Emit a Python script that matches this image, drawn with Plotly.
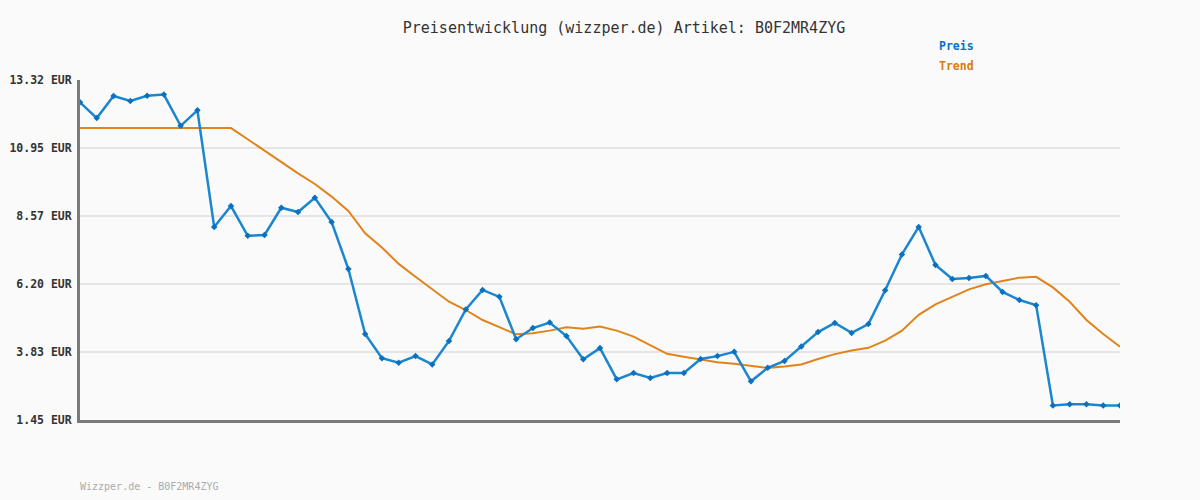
import plotly.graph_objects as go

PRICE_COLOR = "#1b86d0"
MARKER_COLOR = "#0a70c0"
TREND_COLOR = "#e0841a"
FONT = "DejaVu Sans Mono"

# one value per observation (63 points, no date labels shown)
preis = [12.54, 11.99, 12.76, 12.59, 12.77, 12.81, 11.72, 12.26, 8.19, 8.92,
         7.88, 7.91, 8.86, 8.71, 9.21, 8.36, 6.72, 4.45, 3.61, 3.45,
         3.68, 3.39, 4.21, 5.31, 5.99, 5.75, 4.27, 4.66, 4.85, 4.38,
         3.57, 3.96, 2.87, 3.09, 2.92, 3.09, 3.09, 3.58, 3.68, 3.83,
         2.80, 3.27, 3.51, 4.02, 4.52, 4.84, 4.49, 4.80, 5.98, 7.23,
         8.19, 6.86, 6.37, 6.41, 6.48, 5.92, 5.64, 5.46, 1.96, 2.00,
         2.00, 1.96, 1.96]

trend = [11.64, 11.64, 11.64, 11.64, 11.64, 11.64, 11.64, 11.64, 11.64, 11.64,
         11.25, 10.85, 10.47, 10.06, 9.69, 9.25, 8.75, 7.97, 7.47, 6.90,
         6.45, 6.01, 5.58, 5.29, 4.94, 4.69, 4.44, 4.48, 4.57, 4.69,
         4.64, 4.71, 4.57, 4.36, 4.07, 3.76, 3.66, 3.57, 3.47, 3.41,
         3.34, 3.27, 3.32, 3.39, 3.58, 3.75, 3.88, 3.97, 4.22, 4.57,
         5.12, 5.49, 5.75, 6.01, 6.19, 6.30, 6.42, 6.45, 6.08, 5.58,
         4.94, 4.45, 4.01]

y_ticks = [1.45, 3.83, 6.20, 8.57, 10.95, 13.32]
y_labels = [f"{v:.2f} EUR" for v in y_ticks]

x = list(range(len(preis)))

fig = go.Figure()

fig.add_trace(go.Scatter(
    x=x, y=trend, mode='lines', name='Trend',
    line=dict(color=TREND_COLOR, width=2),
))

fig.add_trace(go.Scatter(
    x=x, y=preis, mode='lines+markers', name='Preis',
    line=dict(color=PRICE_COLOR, width=2.5),
    marker=dict(symbol='diamond', size=5, color=MARKER_COLOR),
))

fig.update_layout(
    width=1200, height=500,
    paper_bgcolor="#fafafa",
    plot_bgcolor="#fafafa",
    showlegend=False,
    margin=dict(l=80, r=80, t=80, b=80),
    title=dict(
        text="Preisentwicklung (wizzper.de) Artikel: B0F2MR4ZYG",
        x=0.52, xanchor='center', y=0.944, yanchor='middle',
        font=dict(family=FONT, size=15, color="#333333"),
    ),
    xaxis=dict(
        range=[0, len(preis) - 1],
        showticklabels=False, ticks="", showgrid=False, zeroline=False,
        showline=True, linecolor="#7a7a7a", linewidth=3,
        automargin=False,
    ),
    yaxis=dict(
        range=[y_ticks[0], y_ticks[-1]],
        tickvals=y_ticks, ticktext=y_labels,
        tickfont=dict(family=FONT, size=11.5, color="#333333", weight="bold"),
        ticklabelstandoff=3,
        showgrid=True, gridcolor="#e5e5e5", gridwidth=2,
        zeroline=False,
        showline=True, linecolor="#7a7a7a", linewidth=3,
        automargin=False,
    ),
    annotations=[
        dict(text="<b>Preis</b>", xref='paper', yref='paper', x=0.824, y=1.1,
             xanchor='left', yanchor='middle', showarrow=False,
             font=dict(family=FONT, size=11.5, color=MARKER_COLOR)),
        dict(text="<b>Trend</b>", xref='paper', yref='paper', x=0.824, y=1.041,
             xanchor='left', yanchor='middle', showarrow=False,
             font=dict(family=FONT, size=11.5, color="#d97a0c")),
        dict(text="Wizzper.de - B0F2MR4ZYG", xref='paper', yref='paper', x=-0.002, y=-0.197,
             xanchor='left', yanchor='middle', showarrow=False,
             font=dict(family=FONT, size=10, color="#ababab")),
    ],
)

fig.write_html(
    "out.html",
    config={"displayModeBar": False},
    post_script="document.body.style.margin='0';document.body.style.background='#fafafa';",
)
